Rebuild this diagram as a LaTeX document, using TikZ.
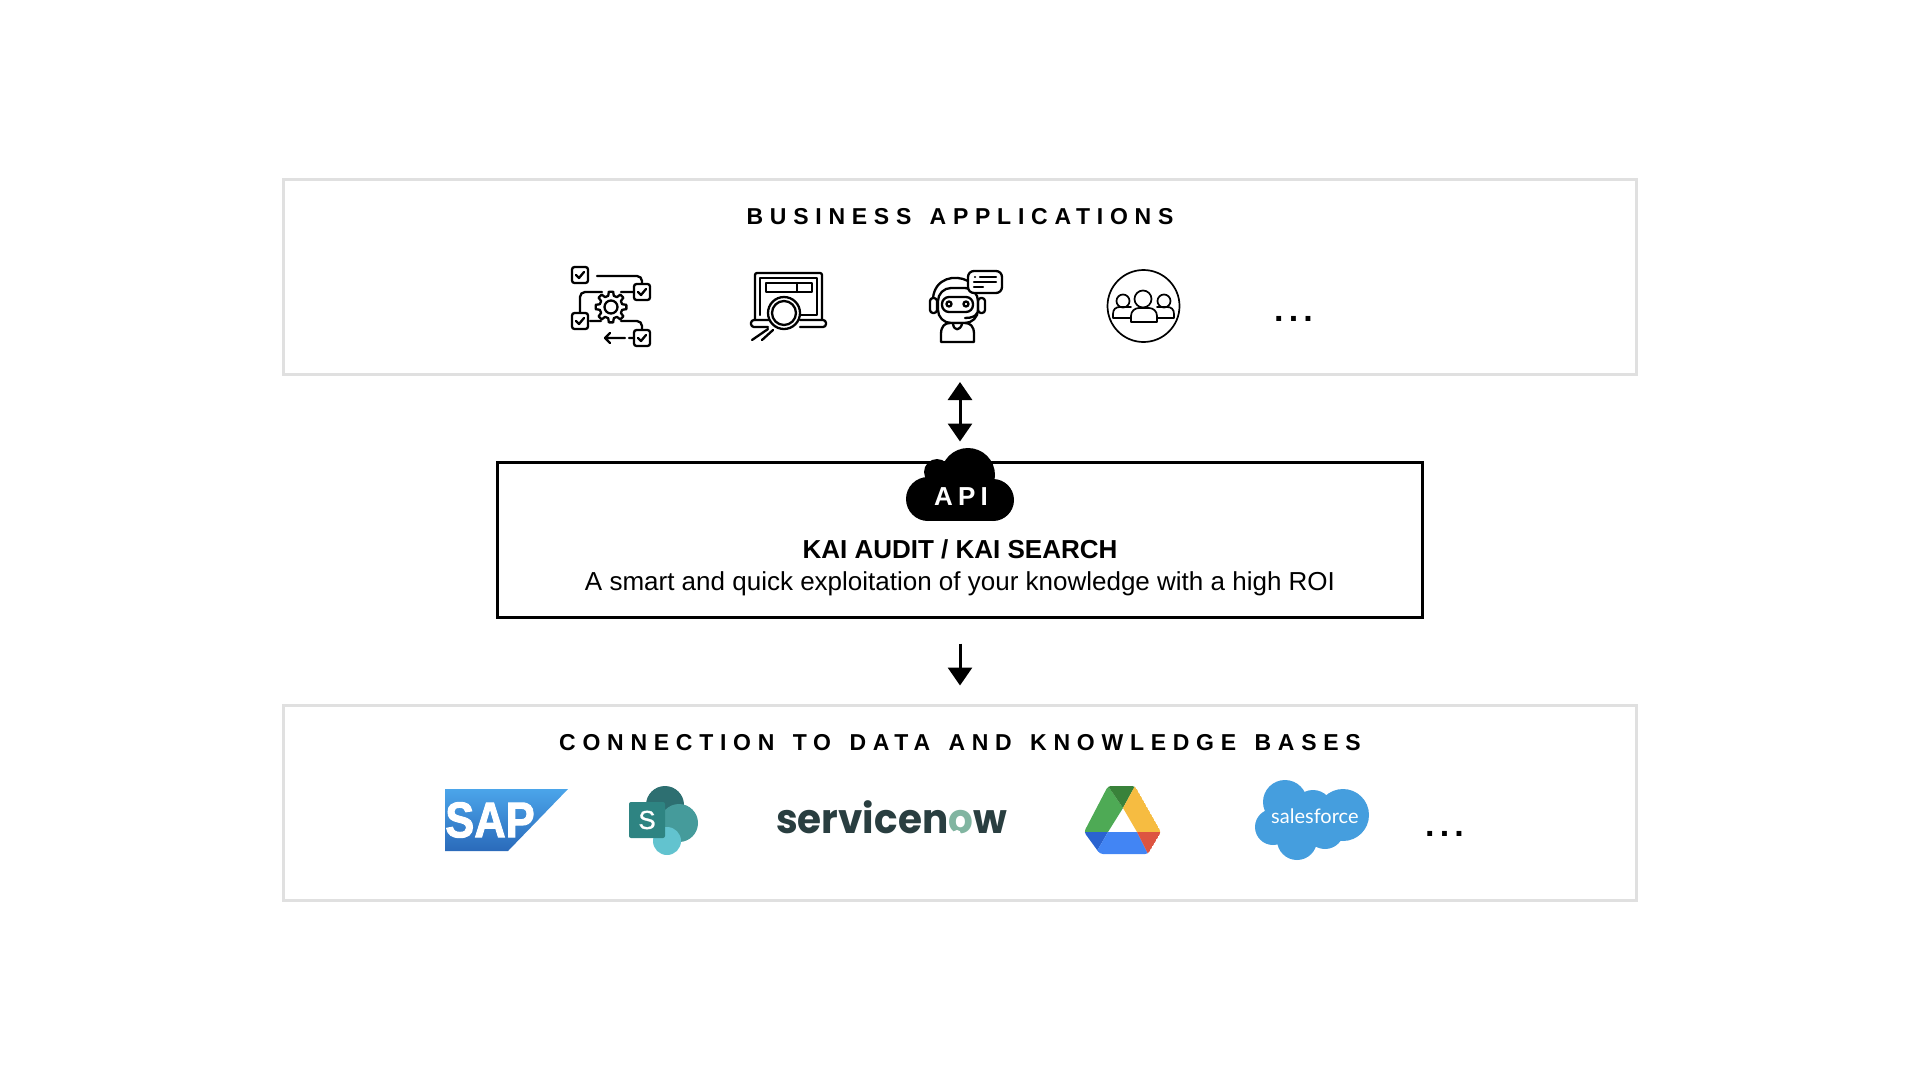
\documentclass[tikz,border=0pt]{standalone}
\usepackage{fontspec}
\setmainfont{Liberation Sans}
\newfontfamily\trackfont[LetterSpace=29.3,WordSpace=1.4]{Liberation Sans}
\newfontfamily\apifont[LetterSpace=20]{Liberation Sans}
\newfontfamily\dotsfont[LetterSpace=15]{Liberation Sans}
\newfontfamily\nowfont{Poppins}
\newfontfamily\sapfont[FakeBold=2]{Liberation Sans}
\newfontfamily\spfont[FakeBold=1]{Liberation Sans}
\newfontfamily\sffont{Lato}
\usetikzlibrary{arrows.meta,positioning}
\definecolor{framegrey}{HTML}{E0E0E0}
\definecolor{nowdark}{HTML}{293E40}
\definecolor{nowgreen}{HTML}{81B5A1}
\definecolor{sfblue}{HTML}{459EDE}
\definecolor{sapup}{HTML}{4BA5EA}
\definecolor{sapdown}{HTML}{2A6ABA}
\tikzset{
    framebox/.style={draw=framegrey, line width=3pt, minimum width=1353pt, minimum height=195pt, outer sep=0pt},
    kaibox/.style={draw=black, line width=3pt, minimum width=925pt, minimum height=155pt, outer sep=0pt},
    heading/.style={font=\trackfont\bfseries\fontsize{23}{28}\selectfont, inner sep=0pt},
    moredots/.style={font=\dotsfont\bfseries\fontsize{34}{40}\selectfont, inner sep=0pt, anchor=base},
    flow/.style={line width=3pt, -{Triangle[length=18pt,width=24pt]}},
    biflow/.style={line width=3pt, {Triangle[length=18pt,width=24pt]}-{Triangle[length=18pt,width=24pt]}},
    icon/.style={line width=2.3pt, line cap=round, line join=round},
    thin icon/.style={line width=1.7pt, line cap=round, line join=round},
    tickbox/.pic={
        \draw[icon, rounded corners=2.5pt] (-8,-8) rectangle (8,8);
        \draw[icon] (-4,0) -- (-1,3) -- (4,-3);
    }
}
\begin{document}
\begin{tikzpicture}[x=1pt,y=-1pt]
    \useasboundingbox (0,0) rectangle (1920,1080);
    \node[framebox] (appsbox) at (960,276.5) {};
    \node[kaibox] (kainode) at (960,540) {};
    \node[framebox] (connbox) at (960,803) {};
    \node[heading] (appstitle) at (960,217) {BUSINESS APPLICATIONS};
    \node[heading] (conntitle) at (960,743) {CONNECTION TO DATA AND KNOWLEDGE BASES};

    \draw[biflow, shorten <=8pt, shorten >=21pt] (appsbox.south) -- (kainode.north);
    \draw[flow, shorten <=26pt, shorten >=20pt] (kainode.south) -- (connbox.north);

    % API cloud
    \fill (928,499) circle (22) (993,500) circle (21) (937,472) circle (13) (968,475) circle (27);
    \fill (928,477) rectangle (993,521);
    \fill (930,470) rectangle (990,490);
    \node[font=\apifont\bfseries\fontsize{26}{30}\selectfont, text=white, inner sep=0pt] (apilabel) at (961,497) {API};
    \node[align=center, inner sep=0pt, font=\fontsize{26}{32}\selectfont] (kailabel) at (960,568)
        {\bfseries KAI AUDIT / KAI SEARCH\\ A smart and quick exploitation of your knowledge with a high ROI};

    % workflow icon
    \path (580,275) pic {tickbox} (642,292) pic {tickbox} (580,321) pic {tickbox} (642,338) pic {tickbox};
    \draw[icon, rounded corners=5pt] (597,276) -- (642,276) -- (642,283);
    \draw[icon, rounded corners=5pt] (602,292) -- (580,292) -- (580,312);
    \draw[icon] (621,292) -- (633,292) (590,321) -- (601,321) (625,338) -- (605,338) (610,333) -- (605,338) -- (610,343) (629,338) -- (634,338);
    \draw[icon, rounded corners=5pt] (621,321) -- (642,321) -- (642,329);
    \begin{scope}[shift={(611,307)}]
        \draw[icon] (-14:11.5) \foreach \a in {0,45,...,315} { -- (\a-14:11.5) -- (\a-8:15.5) -- (\a+8:15.5) -- (\a+14:11.5)} -- cycle;
        \draw[icon] (0,0) circle (6.5);
    \end{scope}

    % search icon
    \draw[icon, rounded corners=2pt] (755,320) -- (755,273) -- (822,273) -- (822,320);
    \draw[icon] (760,315) -- (760,278) -- (817,278) -- (817,315) -- (800,315);
    \draw[icon] (766,283) rectangle (812,292) (797,283) -- (797,292);
    \draw[icon, rounded corners=3pt] (770,320) -- (751,320) -- (751,327) -- (768,327);
    \draw[icon, rounded corners=3pt] (800,327) -- (826,327) -- (826,320) -- (800,320);
    \draw[icon, fill=white] (784,313) circle (16);
    \draw[icon] (784,313) circle (12);
    \draw[icon] (768,329) -- (752,340) (773,330) -- (762,340);

    % bot icon
    \draw[icon] (933,298) .. controls (935,278) and (955,274) .. (968,281);
    \draw[icon, rounded corners=13pt] (938,288) rectangle (978,323);
    \draw[icon, fill=white, rounded corners=7pt] (942,297) rectangle (973,312);
    \draw[icon] (949,304) circle (2.5) (966,304) circle (2.5);
    \draw[icon, rounded corners=3pt] (930,298) rectangle (937,313) (978,298) rectangle (985,313);
    \draw[icon] (965,318) .. controls (972,318) and (976,316) .. (977,313);
    \draw[icon, fill=white, rounded corners=6pt] (968,271) rectangle (1002,293);
    \draw[icon] (975,277) -- (975.1,277) (980,277) -- (996,277) (974,282) -- (996,282) (974,287) -- (983,287);
    \draw[icon, fill=white] (941,342) -- (941,334) .. controls (941,326) and (945,323) .. (950,323) -- (965,323) .. controls (970,323) and (974,326) .. (974,334) -- (974,342) -- cycle;
    \draw[icon] (953,324) .. controls (954,331) and (960,331) .. (962,324);

    % team icon
    \draw[thin icon] (1143.5,306) circle (36);
    \draw[thin icon] (1123,301) circle (6.5) (1164,301) circle (6.5);
    \draw[thin icon] (1131,318) -- (1113,318) -- (1113,314) .. controls (1113,309) and (1116,307) .. (1120,307) -- (1131,307);
    \draw[thin icon] (1157,318) -- (1174,318) -- (1174,314) .. controls (1174,309) and (1171,307) .. (1167,307) -- (1157,307);
    \draw[thin icon, fill=white] (1131,322) -- (1131,316) .. controls (1131,311) and (1135,308) .. (1139,308) -- (1149,308) .. controls (1153,308) and (1157,311) .. (1157,316) -- (1157,322) -- cycle;
    \draw[thin icon, fill=white] (1143,299) circle (8.5);
    \node[moredots] (appsdots) at (1293.5,321) {...};

    % SAP
    \shade[top color=sapup, bottom color=sapdown] (445,789) -- (568,789) -- (508,851) -- (445,851) -- cycle;
    \node[text=white, inner sep=0pt, xscale=.87, font=\sapfont\bfseries\fontsize{50}{50}\selectfont] (saplogo) at (490,820) {SAP};

    % SharePoint
    \fill[color={rgb,255:red,45;green,111;blue,113}] (665,805) circle (19);
    \fill[color={rgb,255:red,69;green,155;blue,155}] (679,823) circle (19);
    \fill[color={rgb,255:red,98;green,195;blue,207}] (667,841) circle (14);
    \fill[color={rgb,255:red,46;green,132;blue,130}, rounded corners=2pt] (629,802) rectangle (665,838);
    \node[text=white, inner sep=0pt, font=\spfont\fontsize{26}{30}\selectfont] (splogo) at (647,820) {S};

    % ServiceNow
    \node[text=nowdark, inner sep=0pt, anchor=base west, xscale=.95, font=\nowfont\bfseries\fontsize{41}{50}\selectfont] (nowlogo) at (776,833)
        {servicen\textcolor{nowgreen}{o}w};
    \fill[white] (957,834) circle (4);

    % Drive
    \begin{scope}
        \clip[rounded corners=3pt] (1108,786) -- (1135,786) -- (1161,832) -- (1148,854) -- (1100,854) -- (1084,832) -- cycle;
        \fill[color={rgb,255:red,78;green,170;blue,85}] (1108,786) -- (1123,808) -- (1108,832) -- (1084,832) -- cycle;
        \fill[color={rgb,255:red,57;green,130;blue,58}] (1108,786) -- (1135,786) -- (1123,808) -- cycle;
        \fill[color={rgb,255:red,246;green,188;blue,65}] (1135,786) -- (1161,832) -- (1137,832) -- (1123,808) -- cycle;
        \fill[color={rgb,255:red,42;green,99;blue,208}] (1084,832) -- (1108,832) -- (1097,851) -- (1100,854) -- cycle;
        \fill[color={rgb,255:red,66;green,133;blue,244}] (1108,832) -- (1137,832) -- (1148,854) -- (1100,854) -- (1097,851) -- cycle;
        \fill[color={rgb,255:red,221;green,84;blue,65}] (1137,832) -- (1161,832) -- (1148,854) -- cycle;
    \end{scope}

    % Salesforce
    \fill[sfblue] (1285,802) circle (22) (1313,810) circle (20) (1343,815) circle (26) (1273,827) circle (18) (1297,840) circle (20) (1325,830) circle (19) (1305,822) circle (20);
    \node[text=white, inner sep=0pt, anchor=base west, font=\sffont\fontsize{20}{25}\selectfont] (sflogo) at (1271,823) {salesforce};
    \node[moredots] (conndots) at (1444.5,836) {...};
\end{tikzpicture}
\end{document}
